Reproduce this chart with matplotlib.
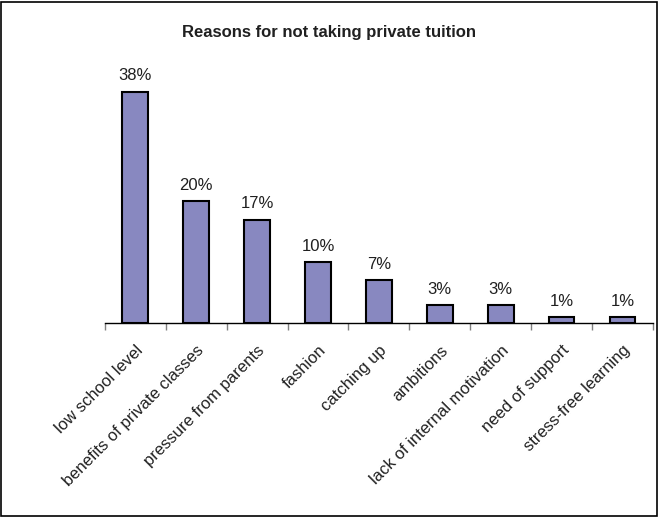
import numpy as np
import matplotlib.pyplot as plt
from matplotlib.patches import Rectangle

plt.rcParams['font.family'] = ['Liberation Sans', 'DejaVu Sans']

# data
reasons = ['low school level', 'benefits of private classes', 'pressure from parents',
           'fashion', 'catching up', 'ambitions', 'lack of internal motivation',
           'need of support', 'stress-free learning']
shares = [38, 20, 17, 10, 7, 3, 3, 1, 1]

fig = plt.figure(figsize=(6.59, 5.17), dpi=100)
ax = fig.add_axes([0.159, 0.375, 0.832, 0.51])

x = np.arange(len(reasons))
ax.bar(x, shares, width=0.42, color='#8888c0', edgecolor='black', linewidth=1.5, zorder=3)
for xi, v in zip(x, shares):
    ax.annotate('%d%%' % v, (xi, v), xytext=(0, 6), textcoords='offset points',
                ha='center', va='bottom', fontsize=12, color='#202020')

ax.set_xlim(-0.5, len(reasons) - 0.5)
ax.set_ylim(0, 43.3)
ax.set_xticks(x)
ax.set_xticklabels(reasons, rotation=45, ha='right', rotation_mode='anchor',
                   fontsize=12, color='#202020')
ax.tick_params(axis='x', length=0, pad=14)
# tick marks between the categories, like the original
ax.set_xticks(np.arange(-0.5, len(reasons)), minor=True)
ax.tick_params(axis='x', which='minor', length=5, color='#808080', width=1)
ax.set_yticks([])
for side in ['left', 'right', 'top']:
    ax.spines[side].set_visible(False)
ax.spines['bottom'].set_color('black')
ax.spines['bottom'].set_linewidth(1)

fig.text(0.5, 0.938, 'Reasons for not taking private tuition', ha='center', va='center',
         fontsize=12, fontweight='bold', color='#202020')

fig.patches.append(Rectangle((0.002, 0.002), 0.995, 0.995, transform=fig.transFigure,
                             fill=False, edgecolor='black', linewidth=1.2))

fig.savefig('out.png', dpi=100)
